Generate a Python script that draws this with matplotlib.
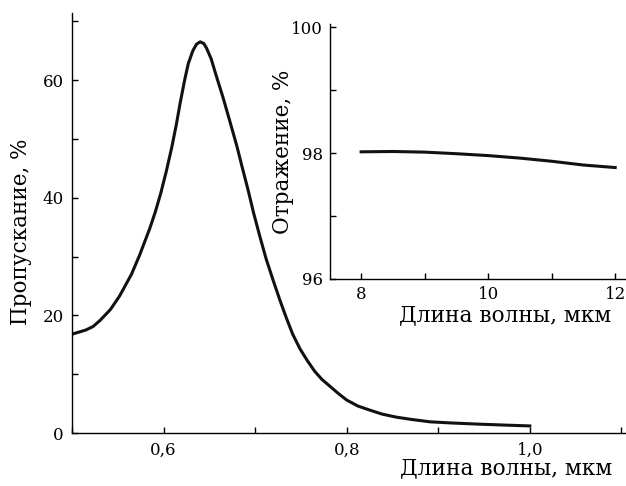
import matplotlib
matplotlib.use('Agg')
import matplotlib.pyplot as plt
from matplotlib.ticker import MultipleLocator

plt.rcParams['font.family'] = ['DejaVu Serif']

# Main curve: transmission vs wavelength
wl = [0.500, 0.515, 0.523, 0.531, 0.542, 0.552, 0.565, 0.574, 0.585, 0.591,
      0.597, 0.603, 0.609, 0.614, 0.618, 0.623, 0.627, 0.632, 0.636, 0.640,
      0.644, 0.647, 0.652, 0.657, 0.665, 0.672, 0.680, 0.686, 0.692, 0.698,
      0.705, 0.712, 0.720, 0.727, 0.734, 0.741, 0.749, 0.757, 0.765, 0.773,
      0.782, 0.791, 0.800, 0.812, 0.825, 0.839, 0.854, 0.871, 0.891, 0.915,
      0.945, 0.972, 1.000]
trans = [16.8, 17.5, 18.1, 19.2, 21.0, 23.3, 27.0, 30.3, 34.8, 37.6,
         40.8, 44.5, 48.6, 52.5, 56.0, 60.0, 62.8, 65.0, 66.1, 66.5,
         66.2, 65.4, 63.6, 61.0, 57.0, 53.2, 48.8, 45.1, 41.5, 37.6,
         33.5, 29.6, 25.8, 22.6, 19.6, 16.8, 14.3, 12.3, 10.5, 9.1,
         7.9, 6.7, 5.6, 4.6, 3.9, 3.2, 2.7, 2.3, 1.9, 1.7,
         1.5, 1.35, 1.2]

# Inset: reflection in IR
wl_ir = [8.0, 8.5, 9.0, 9.5, 10.0, 10.5, 11.0, 11.5, 12.0]
refl = [98.02, 98.025, 98.015, 97.99, 97.96, 97.92, 97.87, 97.81, 97.77]

main_xticks = [0.6, 0.8, 1.0]
main_xlabels = ['0,6', '0,8', '1,0']
main_yticks = [0, 20, 40, 60]
ins_xticks = [8, 10, 12]
ins_yticks = [96, 98, 100]

fig = plt.figure(figsize=(6.26, 4.86), dpi=100)

ax = fig.add_axes([72 / 626, 53 / 486, 554 / 626, 420 / 486])
ax.plot(wl, trans, color='#111111', lw=2.2, solid_joinstyle='round')
ax.set_xlim(0.5, 1.105)
ax.set_ylim(0, 71.4)
ax.set_xticks(main_xticks)
ax.set_xticklabels(main_xlabels)
ax.xaxis.set_minor_locator(MultipleLocator(0.1))
ax.set_yticks(main_yticks)
ax.yaxis.set_minor_locator(MultipleLocator(10))
for s in ['top', 'right']:
    ax.spines[s].set_visible(False)
for s in ['left', 'bottom']:
    ax.spines[s].set_linewidth(1.0)
ax.tick_params(which='both', direction='in', length=4, width=1.0, labelsize=12, pad=6)
ax.set_ylabel('Пропускание, %', fontsize=15.5)
ax.yaxis.set_label_coords(-0.072, 0.48)
ax.set_xlabel('Длина волны, мкм', fontsize=15.7, loc='right')
ax.xaxis.set_label_coords(0.975, -0.058)

ins = fig.add_axes([330 / 626, 207 / 486, 296 / 626, 255 / 486])
ins.patch.set_alpha(0)
ins.plot(wl_ir, refl, color='#111111', lw=2.2)
ins.set_xlim(7.51, 12.17)
ins.set_ylim(96, 100.05)
ins.set_xticks(ins_xticks)
ins.xaxis.set_minor_locator(MultipleLocator(1))
ins.set_yticks(ins_yticks)
ins.yaxis.set_minor_locator(MultipleLocator(1))
for s in ['top', 'right']:
    ins.spines[s].set_visible(False)
for s in ['left', 'bottom']:
    ins.spines[s].set_linewidth(1.0)
ins.tick_params(which='both', direction='in', length=4, width=1.0, labelsize=12, pad=5)
ins.set_ylabel('Отражение, %', fontsize=15.5)
ins.yaxis.set_label_coords(-0.12, 0.5)
ins.set_xlabel('Длина волны, мкм', fontsize=15.7, loc='right')
ins.xaxis.set_label_coords(0.95, -0.1)

fig.savefig('out.png', dpi=100)
